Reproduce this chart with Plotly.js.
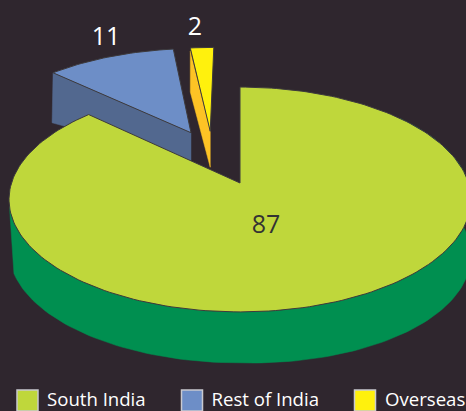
<!DOCTYPE html>
<html><head><meta charset="utf-8">
<script src="https://cdn.plot.ly/plotly-3.0.1.min.js"></script>
<style>html,body{margin:0;padding:0;background:#2f262e;overflow:hidden}#c{width:466px;height:411px}</style>
</head><body><div id="c"></div>
<script>
// Data
const categories = ["South India", "Rest of India", "Overseas"];
const values = [87, 11, 2];
const topColors = ["#bfd73b", "#6d8ec7", "#fff10d"];
const sideColors = ["#008f50", "#52688f", "#fdc325"];
const labelColors = ["#333333", "#ffffff", "#ffffff"];

// View geometry of the tilted disc
const W = 466, H = 411, BG = "#2f262e", EDGE = "#3d3a3c";
const CX = 240, CY = 183, A = 228.5, B = 110, K = 0.1467;
const offsetU = [0, -0.23, -0.14];
const offsetV = [0, 0.49, 0.505];
const total = values.reduce((a, b) => a + b, 0);
let run = 0;
const spans = values.map(v => { const s = run; run += v / total * 360; return [s, run]; });
const rad = d => d * Math.PI / 180;
function project(u, v) { const d = 1 + K * v; return [CX + A * u / d, CY - B * v / d]; }
function rimPoint(i, deg) { return project(Math.sin(rad(deg)) + offsetU[i], Math.cos(rad(deg)) + offsetV[i]); }
function apexPoint(i) { return project(offsetU[i], offsetV[i]); }
function arc(i, a0, a1) { const out = []; const n = Math.max(4, Math.ceil(Math.abs(a1 - a0) / 1.5));
  for (let j = 0; j <= n; j++) out.push(rimPoint(i, a0 + (a1 - a0) * j / n)); return out; }
function poly(pts, fill, lineColor, lineWidth) {
  const p = pts.concat([pts[0]]);
  return { type: "scatter", mode: "lines", x: p.map(q => q[0]), y: p.map(q => q[1]), fill: "toself", fillcolor: fill,
    line: { color: lineColor || fill, width: lineWidth === undefined ? 1 : lineWidth }, hoverinfo: "skip", showlegend: false };
}
const traces = [];

// Overseas side (its left radial face)
{ const a = apexPoint(2), r = rimPoint(2, spans[2][0]);
  traces.push(poly([[r[0], r[1] + 3], a, [a[0], a[1] + 36], [r[0], r[1] + 44]], sideColors[2], sideColors[2], 0.5));
  traces.push(poly([a].concat(arc(2, spans[2][0], spans[2][1])), topColors[2], EDGE, 1)); }

// Rest of India side and top
{ const a = apexPoint(1), r = rimPoint(1, spans[1][0]);
  traces.push(poly([r, a, [a[0], a[1] + 28], [r[0] - 1, r[1] + 50]], sideColors[1], sideColors[1], 0.5));
  traces.push(poly([a].concat(arc(1, spans[1][0], spans[1][1])), topColors[1], EDGE, 1)); }

// South India side wall as a band under the front rim, then top
{ const upper = arc(0, 258, 50);
  const lower = arc(0, 250, 50).map(p => {
    const over = Math.max(0, (p[0] - CX) / A);
    return [p[0], p[1] + 51 + 5 * over];
  });
  traces.push(poly(upper.concat(lower.reverse()), sideColors[0], sideColors[0], 0.5));
  const a = apexPoint(0);
  traces.push(poly([a].concat(arc(0, spans[0][0], spans[0][1])), topColors[0], EDGE, 1)); }

// Value labels
const labelX = [266, 106, 195], labelY = [227, 39, 29];
traces.push({ type: "scatter", mode: "text", x: labelX, y: labelY, text: values.map(String),
  textposition: "middle center", textfont: { family: "Open Sans", size: 25, color: labelColors }, hoverinfo: "skip", showlegend: false });

// Legend row
const legendSwatchX = [27.5, 192, 365], legendY = 400.5;
traces.push({ type: "scatter", mode: "markers", x: legendSwatchX, y: legendSwatchX.map(() => legendY),
  marker: { symbol: "square", size: 21, color: topColors, line: { color: "#c9c9cf", width: 1.5 } }, hoverinfo: "skip", showlegend: false });
const legendTextX = [47, 211.5, 385];
traces.push({ type: "scatter", mode: "text", x: legendTextX, y: legendTextX.map(() => 401), text: categories,
  textposition: "middle right", textfont: { family: "Open Sans", size: 18.6, color: "#ffffff" }, hoverinfo: "skip", showlegend: false });

Plotly.newPlot("c", traces, {
  width: W, height: H, margin: { l: 0, r: 0, t: 0, b: 0 }, paper_bgcolor: BG, plot_bgcolor: BG, showlegend: false,
  xaxis: { range: [0, W], visible: false, fixedrange: true },
  yaxis: { range: [H, 0], visible: false, fixedrange: true }
}, { displayModeBar: false, staticPlot: true });
</script></body></html>
